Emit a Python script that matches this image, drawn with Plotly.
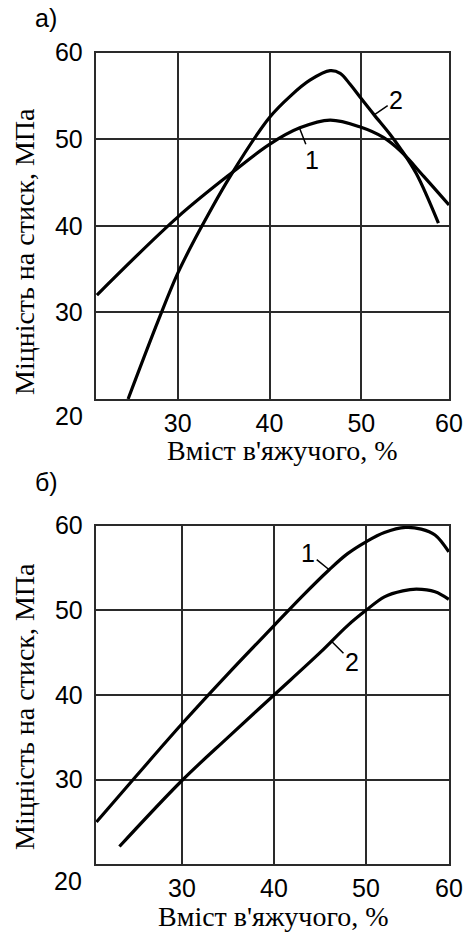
import plotly.graph_objects as go

W, H = 468, 934

# ---------- data ----------
# panel a)
a_x1 = [21.2, 30.0, 36.0, 40.0, 43.3, 46.6, 49.9, 52.4, 54.3, 56.8, 59.55]
a_y1 = [32.0, 41.0, 46.2, 49.4, 51.3, 52.2, 51.4, 50.2, 48.6, 45.7, 42.4]
a_x2 = [24.6, 27.9, 30.0, 32.4, 36.0, 40.0, 42.3, 44.4, 46.6, 47.7, 48.8, 49.9, 51.4, 53.1, 54.4, 56.0, 58.4]
a_y2 = [20.0, 29.1, 34.5, 39.5, 46.2, 52.5, 55.0, 56.8, 57.9, 57.6, 56.3, 54.8, 52.8, 50.6, 48.7, 46.0, 40.3]
# panel б)
b_x1 = [20.7, 25.0, 30.0, 35.0, 40.0, 43.0, 46.0, 48.0, 50.0, 52.0, 54.3, 56.0, 57.5, 59.0]
b_y1 = [25.0, 30.4, 36.6, 42.5, 48.2, 51.6, 54.8, 56.7, 58.1, 59.2, 59.8, 59.6, 58.9, 56.9]
b_x2 = [23.2, 30.0, 35.0, 40.0, 45.0, 48.0, 50.0, 52.0, 54.0, 55.5, 57.5, 59.0]
b_y2 = [22.1, 29.9, 35.0, 40.0, 45.0, 48.2, 50.0, 51.6, 52.3, 52.5, 52.2, 51.3]

x_range_a = [21.07, 59.55]
x_range_b = [20.62, 59.02]
y_range = [20, 60]

x_ticks = [30, 40, 50]
y_ticks = [30, 40, 50, 60]
tick_text_x = ["30", "40", "50", "60"]
tick_text_y = ["30", "40", "50", "60"]
corner_label = "20"

curve_names = ["1", "2"]
# points on curves where label leaders touch: (x, y)
a_label_pts = [(43.3, 51.2), (51.4, 52.8)]
b_label_pts = [(46.0, 54.8), (46.3, 46.3)]

panel_labels = ["а)", "б)"]
x_title = "Вміст в'яжучого, %"
y_title = "Міцність на стиск, МПа"

# ---------- figure ----------
SANS = "Liberation Sans, Arial, sans-serif"
SERIF = "Liberation Serif, Times New Roman, serif"
GRID = "#2a2a2a"
TICK_SIZE = 25


def px(v):
    return v / W


def py(v):
    return 1 - v / H


fig = go.Figure()
line_style = dict(color="black", width=3.2, shape="spline", smoothing=1.0)
fig.add_trace(go.Scatter(x=a_x1, y=a_y1, mode="lines", line=line_style, xaxis="x", yaxis="y", name=curve_names[0]))
fig.add_trace(go.Scatter(x=a_x2, y=a_y2, mode="lines", line=line_style, xaxis="x", yaxis="y", name=curve_names[1]))
fig.add_trace(go.Scatter(x=b_x1, y=b_y1, mode="lines", line=line_style, xaxis="x2", yaxis="y2", name=curve_names[0]))
fig.add_trace(go.Scatter(x=b_x2, y=b_y2, mode="lines", line=line_style, xaxis="x2", yaxis="y2", name=curve_names[1]))

common_axis = dict(
    showgrid=True, gridcolor=GRID, gridwidth=1.6,
    showline=True, linecolor=GRID, linewidth=2, mirror=True,
    zeroline=False, ticks="", tickfont=dict(family=SANS, size=TICK_SIZE, color="black"),
    tickmode="array", fixedrange=True, automargin=False,
)

fig.update_layout(
    template="none",
    width=W, height=H,
    margin=dict(l=0, r=0, t=0, b=0, pad=0),
    paper_bgcolor="white", plot_bgcolor="white",
    showlegend=False,
    xaxis=dict(common_axis, domain=[px(95.7), px(449)], range=x_range_a,
               tickvals=x_ticks + [x_range_a[1]], ticktext=tick_text_x,
               anchor="y", ticklabelstandoff=1),
    yaxis=dict(common_axis, domain=[py(399), py(52.5)], range=y_range,
               tickvals=y_ticks, ticktext=tick_text_y, anchor="x", ticklabelstandoff=6),
    xaxis2=dict(common_axis, domain=[px(95.7), px(449)], range=x_range_b,
                tickvals=x_ticks + [x_range_b[1]], ticktext=tick_text_x,
                anchor="y2", ticklabelstandoff=1),
    yaxis2=dict(common_axis, domain=[py(864.3), py(525.7)], range=y_range,
                tickvals=y_ticks, ticktext=tick_text_y, anchor="x2", ticklabelstandoff=6),
)

ann = []


def paper_text(text, cx, cy, family=SANS, size=TICK_SIZE, angle=0):
    return dict(text=text, x=px(cx), y=py(cy), xref="paper", yref="paper",
                xanchor="center", yanchor="middle", textangle=angle,
                showarrow=False, font=dict(family=family, size=size, color="black"))


# panel labels
ann.append(paper_text(panel_labels[0], 46, 18))
ann.append(paper_text(panel_labels[1], 46, 482))
# corner "20"
ann.append(paper_text(corner_label, 69, 416))
ann.append(paper_text(corner_label, 68, 880.7))
# axis titles
ann.append(paper_text(x_title, 282, 450, SERIF, 28))
ann.append(paper_text(x_title, 273, 916, SERIF, 28))
ann.append(paper_text(y_title, 24, 252, SERIF, 28, -90))
ann.append(paper_text(y_title, 24, 707, SERIF, 28, -90))

# curve labels with leaders
offsets_a = [(12, 31), (22, -15)]
offsets_b = [(-21, -17), (20, 20)]
for (xx, yy), name, (ox, oy) in zip(a_label_pts, curve_names, offsets_a):
    ann.append(dict(text=name, x=xx, y=yy, xref="x", yref="y", ax=ox, ay=oy,
                    showarrow=True, arrowhead=0, arrowwidth=1.5, arrowcolor="black",
                    font=dict(family=SANS, size=TICK_SIZE, color="black")))
for (xx, yy), name, (ox, oy) in zip(b_label_pts, curve_names, offsets_b):
    ann.append(dict(text=name, x=xx, y=yy, xref="x2", yref="y2", ax=ox, ay=oy,
                    showarrow=True, arrowhead=0, arrowwidth=1.5, arrowcolor="black",
                    font=dict(family=SANS, size=TICK_SIZE, color="black")))

fig.update_layout(annotations=ann)
fig.write_html("out.html", config={"displayModeBar": False})
